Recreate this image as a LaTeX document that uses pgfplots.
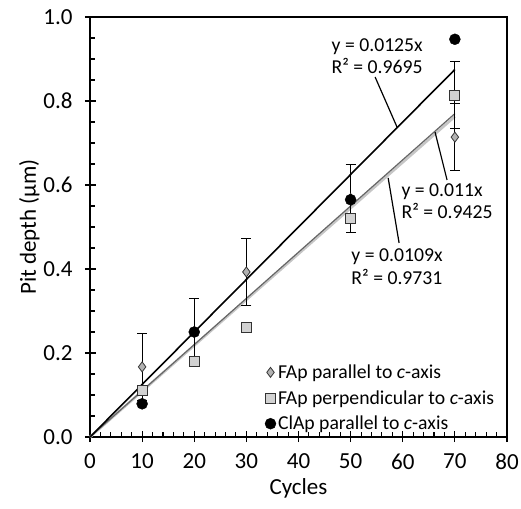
\documentclass[border=0pt]{standalone}
\usepackage{fontspec}
\setmainfont{Carlito}
\usepackage{pgfplots}
\pgfplotsset{compat=1.18}
\begin{document}
\begin{tikzpicture}
\begin{axis}[
 scale only axis, width=417pt, height=420pt,
 xmin=0, xmax=80, ymin=0, ymax=1,
 xtick={0,10,20,30,40,50,60,70,80},
 ytick={0,0.2,0.4,0.6,0.8,1.0},
 yticklabel style={xshift=-14pt, /pgf/number format/fixed, /pgf/number format/fixed zerofill, /pgf/number format/precision=1},
 /pgf/number format/assume math mode=true,
 minor x tick num=4, minor y tick num=3,
 tick pos=left, tick align=inside,
 major tick length=6pt, minor tick length=5pt,
 tick style={black, line width=1.1pt},
 axis line style={line width=1.4pt},
 ticklabel style={font=\fontsize{23}{27}\selectfont},
 xticklabel style={yshift=-13pt},
 xlabel={Cycles}, ylabel={Pit depth (μm)},
 label style={font=\fontsize{23}{27}\selectfont},
 xlabel style={yshift=3pt},
 ylabel style={yshift=-8pt},
 extra x ticks={0,10,20,30,40,50,60,70,80},
 extra y ticks={0,0.2,0.4,0.6,0.8,1.0},
 extra x tick labels={}, extra y tick labels={},
 extra tick style={tick align=outside, major tick length=5pt},
 legend style={draw=none, fill=none, at={(rel axis cs:0.412,0.182)}, anchor=north west,
   font=\fontsize{19.7}{23}\selectfont, row sep=6.5pt},
 legend cell align=left,
 clip=false,
]
% regression lines
\addplot[forget plot, gray!45, line width=2.6pt] coordinates {(0,0) (70,0.763)};
\addplot[forget plot, gray!80!black, line width=1.2pt] coordinates {(0,0) (70,0.770)};
\addplot[forget plot, black, line width=1.6pt] coordinates {(0,0) (70,0.875)};
% error bars
\addplot[forget plot, only marks, mark=none, black,
  error bars/.cd, y dir=both, y explicit,
  error bar style={line width=1pt, draw=black},
  error mark options={rotate=90, mark size=5pt, line width=1pt, draw=black}]
  table[x=x, y=y, y error=e] {
x y e
10 0.167 0.080
20 0.250 0.080
30 0.393 0.080
50 0.568 0.080
70 0.714 0.079
};
\addplot[forget plot, only marks, mark=none, black,
  error bars/.cd, y dir=both, y explicit,
  error bar style={line width=1pt, draw=black},
  error mark options={rotate=90, mark size=5pt, line width=1pt, draw=black}]
  table[x=x, y=y, y error=e] {
x y e
70 0.814 0.079
};
% markers
\addplot[only marks, mark=diamond*, mark size=5pt, mark options={fill=gray!60, draw=gray!40!black, line width=0.8pt}]
  table[x=x, y=y] {
x y
10 0.167
20 0.250
30 0.393
50 0.568
70 0.714
};
\addlegendentry{FAp parallel to \textit{c}-axis}
\addplot[only marks, mark=square*, mark size=5pt, mark options={fill=gray!35, draw=gray!40!black, line width=0.9pt}]
  table[x=x, y=y] {
x y
10 0.110
20 0.179
30 0.262
50 0.520
70 0.814
};
\addlegendentry{FAp perpendicular to \textit{c}-axis}
\addplot[only marks, mark=*, mark size=5.5pt, mark options={fill=black, draw=black}]
  table[x=x, y=y] {
x y
10 0.079
20 0.250
50 0.565
70 0.947
};
\addlegendentry{ClAp parallel to \textit{c}-axis}
% annotations
\draw[black, line width=1.2pt] (axis cs:54.7,0.857) -- (axis cs:58.9,0.738);
\draw[black, line width=1.2pt] (axis cs:66.2,0.726) -- (axis cs:68.5,0.612);
\draw[black, line width=1.2pt] (axis cs:57.2,0.617) -- (axis cs:59.3,0.462);
\node[align=left, font=\fontsize{19.7}{22.5}\selectfont, fill=white, inner sep=1pt] at (axis cs:55.1,0.907) {y = 0.0125x\\R² = 0.9695};
\node[align=left, font=\fontsize{19.7}{22.5}\selectfont, fill=white, inner sep=1pt] at (axis cs:68.5,0.562) {y = 0.011x\\R² = 0.9425};
\node[align=left, font=\fontsize{19.7}{22.5}\selectfont, fill=white, inner sep=1pt] at (axis cs:58.9,0.405) {y = 0.0109x\\R² = 0.9731};
\coordinate (sw) at (rel axis cs:0,0);
\coordinate (ne) at (rel axis cs:1,1);
\end{axis}
\pgfresetboundingbox
\path ([xshift=-90pt,yshift=-71pt]sw) rectangle ([xshift=14pt,yshift=17pt]ne);
\end{tikzpicture}
\end{document}
